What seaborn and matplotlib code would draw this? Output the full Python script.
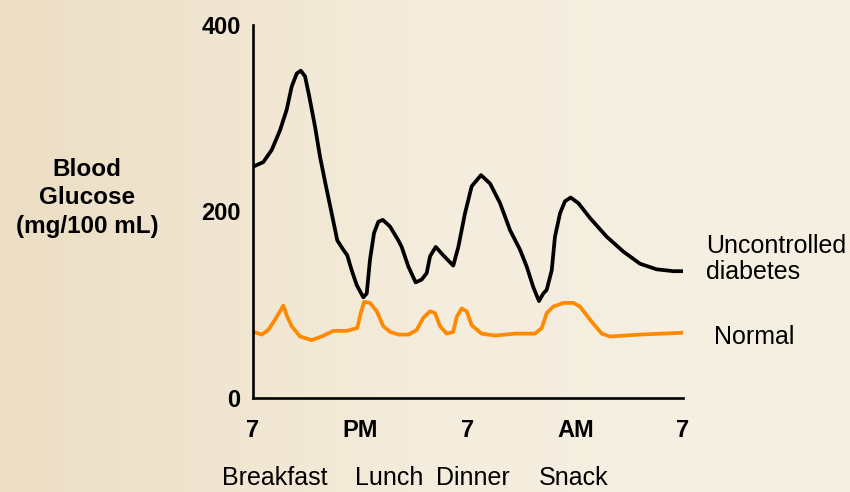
import numpy as np
import pandas as pd
import matplotlib
matplotlib.use("Agg")
import matplotlib.pyplot as plt
from matplotlib.colors import LinearSegmentedColormap
import seaborn as sns

# x positions are in tick units: 0 = 7 AM, 1 = noon, 2 = 7 PM, 3 = midnight, 4 = 7 AM
tick_pos = [0, 1, 2, 3, 4]
tick_labels = ["7", "PM", "7", "AM", "7"]

meals = ["Breakfast", "Lunch", "Dinner", "Snack"]
meal_pos = [0.20, 1.27, 2.05, 2.98]

diab_x = [0.000, 0.096, 0.174, 0.251, 0.313, 0.360, 0.407, 0.444, 0.484, 0.524,
          0.577, 0.623, 0.679, 0.732, 0.784, 0.840, 0.877, 0.918, 0.965, 1.026,
          1.058, 1.088, 1.126, 1.166, 1.207, 1.274, 1.352, 1.383, 1.445, 1.513,
          1.569, 1.616, 1.647, 1.700, 1.770, 1.863, 1.910, 1.972, 2.034, 2.121,
          2.205, 2.298, 2.391, 2.484, 2.546, 2.607, 2.660, 2.700, 2.732, 2.779,
          2.809, 2.856, 2.902, 2.955, 3.026, 3.135, 3.290, 3.445, 3.600, 3.755,
          3.910, 4.000]
diab_y = [248, 253, 266, 287, 309, 334, 348, 351, 345, 323,
          291, 259, 227, 198, 169, 159, 153, 137, 121, 108,
          112, 148, 177, 189, 191, 184, 169, 162, 141, 124,
          127, 134, 152, 162, 153, 142, 162, 198, 227, 239,
          230, 209, 180, 159, 141, 119, 104, 112, 116, 137,
          173, 198, 211, 215, 209, 193, 173, 157, 144, 138,
          136, 136]

norm_x = [0.000, 0.081, 0.142, 0.205, 0.282, 0.319, 0.360, 0.437, 0.546, 0.639,
          0.747, 0.872, 0.970, 1.002, 1.033, 1.088, 1.151, 1.212, 1.274, 1.352,
          1.445, 1.523, 1.584, 1.647, 1.693, 1.740, 1.802, 1.863, 1.895, 1.941,
          1.988, 2.034, 2.127, 2.251, 2.437, 2.623, 2.686, 2.732, 2.793, 2.887,
          2.980, 3.042, 3.135, 3.244, 3.321, 3.600, 4.000]
norm_y = [71, 68, 73, 84, 99, 87, 77, 66, 62, 66,
          72, 72, 75, 91, 103, 102, 93, 77, 71, 68,
          68, 73, 86, 93, 91, 77, 69, 71, 87, 96,
          93, 78, 69, 67, 69, 69, 75, 91, 98, 102,
          102, 98, 84, 69, 66, 68, 70]

df = pd.concat([
    pd.DataFrame({"time": diab_x, "glucose": diab_y, "group": "Uncontrolled diabetes"}),
    pd.DataFrame({"time": norm_x, "glucose": norm_y, "group": "Normal"}),
])

sns.set_style("white")
plt.rcParams["font.family"] = ["Liberation Sans", "DejaVu Sans"]
plt.rcParams["text.color"] = "black"
plt.rcParams["axes.labelcolor"] = "black"

fig = plt.figure(figsize=(8.5, 4.92), dpi=100)

# parchment-like background, darker on the left
bg = fig.add_axes([0, 0, 1, 1], zorder=-1)
grad = np.linspace(0, 1, 256).reshape(1, -1)
cmap = LinearSegmentedColormap.from_list("paper", ["#ecdec4", "#f0e5d0", "#f4ecdc", "#f5efe1", "#f5efe1"])
bg.imshow(grad, aspect="auto", cmap=cmap, extent=[0, 1, 0, 1])
bg.axis("off")

ax = fig.add_axes([253 / 850, 94 / 492, 430 / 850, 373 / 492])
ax.patch.set_alpha(0)

sns.lineplot(data=df, x="time", y="glucose", hue="group",
             palette={"Uncontrolled diabetes": "black", "Normal": "#ff8a00"},
             linewidth=2.7, sort=False, estimator=None, legend=False, ax=ax)
for ln in ax.lines:
    ln.set_solid_joinstyle("round")
    ln.set_solid_capstyle("round")

ax.set_xlim(0, 4)
ax.set_ylim(0, 400)
ax.set_xticks(tick_pos)
ax.set_xticklabels(tick_labels)
ax.set_yticks([0, 200, 400])
ax.set_xlabel("")
ax.set_ylabel("")
for s in ["top", "right"]:
    ax.spines[s].set_visible(False)
for s in ["left", "bottom"]:
    ax.spines[s].set_linewidth(1.9)
    ax.spines[s].set_color("black")
ax.tick_params(axis="both", direction="out", length=6, width=1.9, color="black",
               labelsize=17, labelcolor="black")
ax.tick_params(axis="x", pad=9)
ax.tick_params(axis="y", pad=3)
for lab in ax.get_xticklabels() + ax.get_yticklabels():
    lab.set_fontweight("bold")

for name, pos in zip(meals, meal_pos):
    ax.text(pos, -0.215, name, transform=ax.get_xaxis_transform(),
            ha="center", va="center", fontsize=18, clip_on=False)

fig.text(87 / 850, 1 - 198 / 492, "Blood\nGlucose\n(mg/100 mL)", ha="center", va="center",
         fontsize=17.5, fontweight="bold", linespacing=1.3, multialignment="center")

fig.text(706 / 850, 1 - 259 / 492, "Uncontrolled\ndiabetes", ha="left", va="center",
         fontsize=18, linespacing=1.12)
fig.text(714 / 850, 1 - 337 / 492, "Normal", ha="left", va="center", fontsize=18)

fig.savefig("out.png", dpi=100)
